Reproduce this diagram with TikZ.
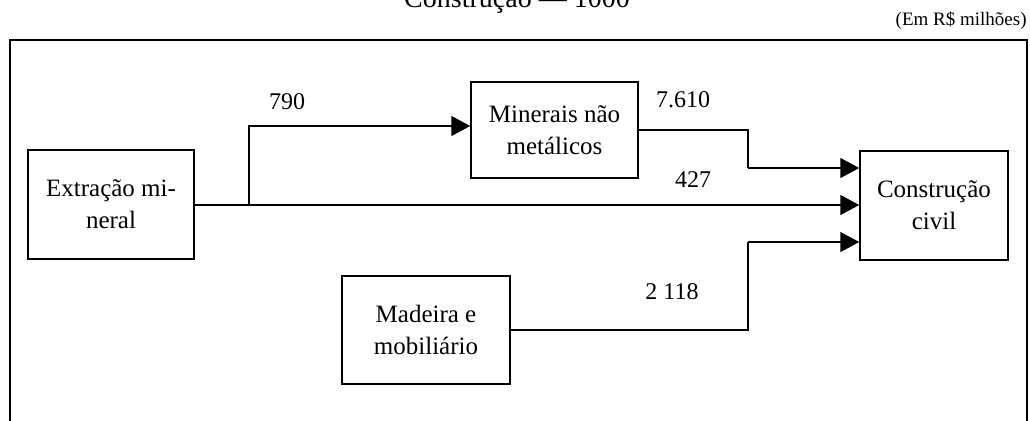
\documentclass[tikz,border=0pt]{standalone}
\usepackage{fontspec}
\setmainfont{Liberation Serif}
\usetikzlibrary{arrows.meta}
\begin{document}
\begin{tikzpicture}[x=0.5pt,y=-0.5pt,
  box/.style={draw,line width=0.75pt,align=center,inner sep=0pt,
    font=\fontsize{12.5}{16}\selectfont},
  arr/.style={line width=0.75pt,-{Triangle[length=9.5pt,width=10pt]}},
  conn/.style={line width=0.75pt},
  lbl/.style={font=\fontsize{12}{14}\selectfont,inner sep=0pt}]
\useasboundingbox (0,0) rectangle (1030,420);
% frame
\draw[line width=0.8pt] (10,40) rectangle (1027,440);
% title and unit
\node[anchor=base,inner sep=0pt,font=\fontsize{14}{16}\selectfont] (title) at (517,7.5) {Construção — 1000};
\node[anchor=base east,inner sep=0pt,font=\fontsize{9.5}{11}\selectfont] (unit) at (1027,25) {(Em R\$ milhões)};
% boxes
\node[box,minimum width=83pt,minimum height=54.5pt] (ext) at (111,204.5) {Extração mi-\\neral};
\node[box,minimum width=83.5pt,minimum height=48pt] (min) at (554.5,130) {Minerais não\\metálicos};
\node[box,minimum width=74pt,minimum height=54.5pt] (con) at (934,205.5) {Construção\\civil};
\node[box,minimum width=84pt,minimum height=54pt] (mad) at (426,330) {Madeira e\\mobiliário};
% junctions
\coordinate (br) at (249,205);
\coordinate (k1) at (748,168);
\coordinate (k2) at (748,242);
% connectors
\draw[arr] (ext.east |- br) -- (br -| con.west);
\draw[arr] (br) |- ([yshift=2pt]min.west);
\draw[conn] (min.east) -| (k1);
\draw[arr] (k1) -- (k1 -| con.west);
\draw[conn] (mad.east) -| (k2);
\draw[arr] (k2) -- (k2 -| con.west);
% labels
\node[lbl] (l790) at (287,102) {790};
\node[lbl] (l7610) at (683,100) {7.610};
\node[lbl] (l427) at (693,180) {427};
\node[lbl] (l2118) at (672,292) {2 118};
\end{tikzpicture}
\end{document}
